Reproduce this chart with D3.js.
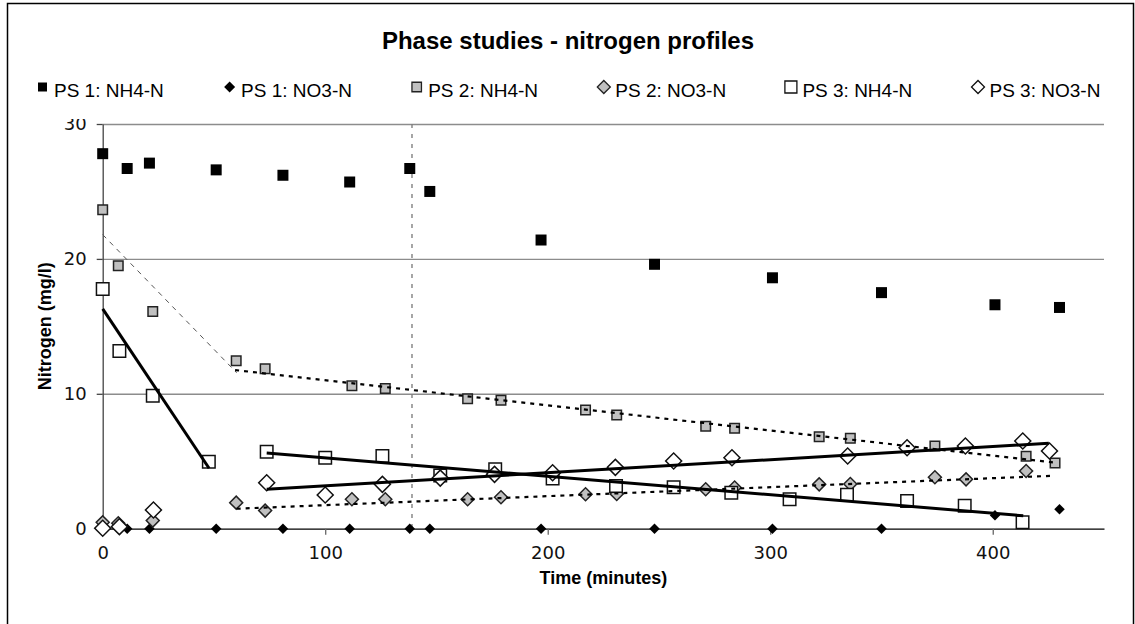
<!DOCTYPE html>
<html>
<head>
<meta charset="utf-8">
<script src="https://cdn.jsdelivr.net/npm/d3@7"></script>
<style>
  body { margin: 0; background: #fff; }
  svg { display: block; }
</style>
</head>
<body>
<svg id="chart" width="1135" height="624"></svg>
<script>
// ---- Phase study measurements (time in minutes, nitrogen in mg/l) ----
const ps1Time = [0, 11, 21, 51, 81, 111, 138, 147, 197, 248, 301, 350, 401, 430];
const ps1NH4  = [27.8, 26.7, 27.1, 26.6, 26.2, 25.7, 26.7, 25.0, 21.4, 19.6, 18.6, 17.5, 16.6, 16.4];
const ps1NO3  = [0, 0, 0, 0, 0, 0, 0, 0, 0, 0, 0, 0, 1.0, 1.45];

const ps2TimeNH4 = [0, 7, 22.5, 60, 73, 112, 127, 164, 179, 217, 231, 271, 284, 322, 336, 374, 415, 428];
const ps2NH4     = [23.65, 19.5, 16.1, 12.45, 11.86, 10.6, 10.4, 9.64, 9.52, 8.8, 8.43, 7.59, 7.44, 6.82, 6.7, 6.13, 5.37, 4.87];
const ps2TimeNO3 = [0, 7, 22.5, 60, 73, 112, 127, 164, 179, 217, 231, 271, 284, 322, 336, 374, 388, 415];
const ps2NO3     = [0.47, 0.4, 0.6, 1.93, 1.34, 2.18, 2.18, 2.18, 2.33, 2.55, 2.57, 2.92, 3.05, 3.29, 3.31, 3.81, 3.66, 4.28];

const ps3TimeNH4 = [0, 7.5, 22.5, 47.7, 73.7, 100, 125.7, 151.7, 176.4, 202.2, 230.7, 256.6, 282.5, 308.7, 334.5, 361.5, 387.4, 413.4];
const ps3NH4     = [17.77, 13.17, 9.86, 4.97, 5.71, 5.26, 5.39, 3.95, 4.4, 3.73, 3.17, 3.07, 2.67, 2.18, 2.52, 2.05, 1.71, 0.47];
const ps3TimeNO3 = [0, 7.5, 22.8, 73.7, 100, 125.7, 151.7, 176.1, 202.2, 230.4, 256.6, 282.8, 334.8, 361.5, 387.7, 413.5, 425.5];
const ps3NO3     = [0.03, 0.15, 1.39, 3.41, 2.5, 3.29, 3.75, 4.03, 4.15, 4.55, 5.02, 5.26, 5.39, 6.0, 6.13, 6.5, 5.76];

// Linear trend segments (start / end points)
const ps2NH4TrendEarly = [[0, 21.8], [60.2, 11.56]];
const ps2NH4TrendLate  = [[59.5, 11.76], [427.8, 4.9]];
const ps2NO3Trend      = [[60.2, 1.48], [427.8, 3.93]];
const ps3NH4TrendEarly = [[0, 16.29], [47.8, 4.48]];
const ps3NH4TrendLate  = [[73.7, 5.61], [413.7, 0.96]];
const ps3NO3Trend      = [[73.7, 2.92], [425.2, 6.33]];

// Phase change marker (minutes)
const phaseMarkers = [139];

const seriesNames = ["PS 1: NH4-N", "PS 1: NO3-N", "PS 2: NH4-N", "PS 2: NO3-N", "PS 3: NH4-N", "PS 3: NO3-N"];
const xTicks = [0, 100, 200, 300, 400];
const yTicks = [0, 10, 20, 30];
const gridTicks = [10, 20, 30];

const titleText = "Phase studies - nitrogen profiles";
const xTitle = "Time (minutes)";
const yTitle = "Nitrogen (mg/l)";

// ---- Layout ----
const plot = { left: 102.7, right: 1104, top: 124, bottom: 528.7 };
const svg = d3.select("#chart");

const x = d3.scaleLinear().domain([0, 450]).range([plot.left, plot.right]);
const y = d3.scaleLinear().domain([0, 30]).range([plot.bottom, plot.top]);

const sans = "'Liberation Sans', Arial, sans-serif";

// outer chart frame
svg.append("rect")
  .attr("x", 7.5).attr("y", 3.5)
  .attr("width", 1126).attr("height", 650)
  .attr("fill", "#fff").attr("stroke", "#000").attr("stroke-width", 1.5);

// title
svg.append("text")
  .attr("x", 568).attr("y", 49)
  .attr("text-anchor", "middle")
  .attr("font-family", sans).attr("font-weight", "bold").attr("font-size", 24)
  .text(titleText);

// ---- gridlines ----
svg.append("g")
  .attr("transform", `translate(${plot.left},0)`)
  .call(d3.axisLeft(y).tickValues(gridTicks).tickSize(-(plot.right - plot.left)).tickFormat(""))
  .call(g => g.select(".domain").remove())
  .call(g => g.selectAll("line").attr("stroke", "#8c8c8c").attr("stroke-width", 1.4));

// phase change marker
svg.append("g").selectAll("line").data(phaseMarkers).join("line")
  .attr("x1", d => x(d)).attr("x2", d => x(d))
  .attr("y1", plot.top).attr("y2", plot.bottom)
  .attr("stroke", "#808080").attr("stroke-width", 1.4)
  .attr("stroke-dasharray", "4,6");

// ---- axes ----
const yAxis = svg.append("g")
  .attr("transform", `translate(${plot.left},0)`)
  .call(d3.axisLeft(y).tickValues(yTicks).tickSize(6).tickSizeOuter(0).tickPadding(10));
yAxis.select(".domain").attr("stroke", "#444").attr("stroke-width", 1.3);
yAxis.selectAll(".tick line").attr("stroke", "#444").attr("stroke-width", 1.3);
yAxis.selectAll("text").attr("font-family", "'DejaVu Sans', sans-serif").attr("font-size", 18).attr("fill", "#111");

const xAxis = svg.append("g")
  .attr("transform", `translate(0,${plot.bottom})`)
  .call(d3.axisBottom(x).tickValues(xTicks).tickSize(6).tickSizeOuter(0).tickPadding(12));
xAxis.select(".domain").attr("stroke", "#000").attr("stroke-width", 1.3);
xAxis.selectAll(".tick line").attr("stroke", "#666").attr("stroke-width", 1.3);
xAxis.selectAll("text").attr("font-family", "'DejaVu Sans', sans-serif").attr("font-size", 18).attr("fill", "#111");

// axis titles
svg.append("text")
  .attr("x", (plot.left + plot.right) / 2).attr("y", 584)
  .attr("text-anchor", "middle")
  .attr("font-family", sans).attr("font-weight", "bold").attr("font-size", 18)
  .text(xTitle);
svg.append("text")
  .attr("transform", `translate(51,${(plot.top + plot.bottom) / 2}) rotate(-90)`)
  .attr("text-anchor", "middle")
  .attr("font-family", sans).attr("font-weight", "bold").attr("font-size", 18)
  .text(yTitle);

// ---- marker shapes ----
function squarePath(w) { return d3.symbol(d3.symbolSquare, w * w)(); }
function diamondPath(w) { const s = w / Math.SQRT2; return d3.symbol(d3.symbolSquare, s * s)(); }

const markerStyles = [
  { shape: "square",  size: 11,   fill: "#000",    stroke: "none", sw: 0,   legendSize: 9 },
  { shape: "diamond", size: 10.5, fill: "#000",    stroke: "none", sw: 0,   legendSize: 11 },
  { shape: "square",  size: 9.5,  fill: "#c0c0c0", stroke: "#222", sw: 1.5, legendSize: 9.5 },
  { shape: "diamond", size: 13,   fill: "#c0c0c0", stroke: "#222", sw: 1.5, legendSize: 13 },
  { shape: "square",  size: 12.5, fill: "#fff",    stroke: "#111", sw: 1.5, legendSize: 12 },
  { shape: "diamond", size: 16,   fill: "#fff",    stroke: "#111", sw: 1.5, legendSize: 13 }
];

const seriesData = [
  d3.zip(ps1Time, ps1NH4),
  d3.zip(ps1Time, ps1NO3),
  d3.zip(ps2TimeNH4, ps2NH4),
  d3.zip(ps2TimeNO3, ps2NO3),
  d3.zip(ps3TimeNH4, ps3NH4),
  d3.zip(ps3TimeNO3, ps3NO3)
];

function markerPath(st, w) { return st.shape === "square" ? squarePath(w) : diamondPath(w); }
function markerTransform(st, px, py) {
  return `translate(${px},${py})` + (st.shape === "diamond" ? " rotate(45)" : "");
}

const marks = svg.append("g");
seriesData.forEach((pts, i) => {
  const st = markerStyles[i];
  marks.append("g").selectAll("path").data(pts).join("path")
    .attr("d", markerPath(st, st.size))
    .attr("transform", d => markerTransform(st, x(d[0]), y(d[1])))
    .attr("fill", st.fill)
    .attr("stroke", st.stroke)
    .attr("stroke-width", st.sw);
});

// ---- trend lines ----
const line = d3.line().x(d => x(d[0])).y(d => y(d[1]));
const trends = [
  { pts: ps2NH4TrendEarly, stroke: "#555", width: 1,   dash: "5,5" },
  { pts: ps2NH4TrendLate,  stroke: "#000", width: 2.2, dash: "4,5" },
  { pts: ps2NO3Trend,      stroke: "#000", width: 2.2, dash: "4,5" },
  { pts: ps3NH4TrendEarly, stroke: "#000", width: 3,   dash: null },
  { pts: ps3NH4TrendLate,  stroke: "#000", width: 3,   dash: null },
  { pts: ps3NO3Trend,      stroke: "#000", width: 3,   dash: null }
];
svg.append("g").selectAll("path").data(trends).join("path")
  .attr("d", d => line(d.pts))
  .attr("fill", "none")
  .attr("stroke", d => d.stroke)
  .attr("stroke-width", d => d.width)
  .attr("stroke-dasharray", d => d.dash);

// ---- legend (white box sits over the top of the axis area) ----
const legendX0 = 42.5, legendStep = 187.1, legendY = 87;
const legend = svg.append("g");
legend.append("rect")
  .attr("x", 14).attr("y", 68).attr("width", 1104).attr("height", 51)
  .attr("fill", "#fff");
seriesNames.forEach((name, i) => {
  const st = markerStyles[i];
  const cx = legendX0 + i * legendStep;
  legend.append("path")
    .attr("d", markerPath(st, st.legendSize))
    .attr("transform", markerTransform(st, cx, legendY))
    .attr("fill", st.fill)
    .attr("stroke", st.stroke)
    .attr("stroke-width", st.sw ? 1.3 : 0);
  legend.append("text")
    .attr("x", cx + 11.5).attr("y", legendY + 9.5)
    .attr("font-family", sans).attr("font-size", 19)
    .text(name);
});
</script>
</body>
</html>
